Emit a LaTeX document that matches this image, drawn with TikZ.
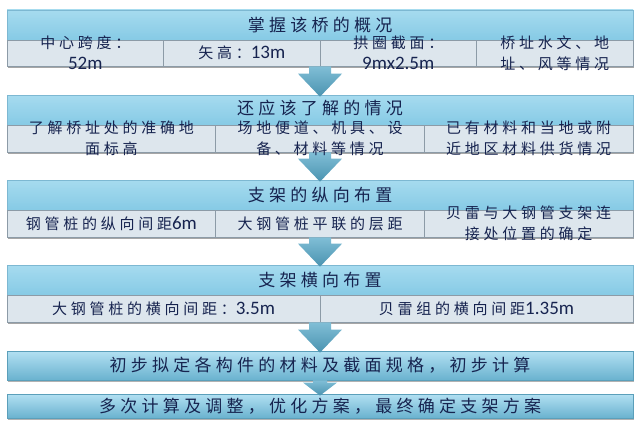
\documentclass[tikz,border=0pt]{standalone}
\usepackage{fontspec}
\setmainfont{Noto Sans CJK SC}[LetterSpace=25]
\newfontfamily\latfont{Carlito}
\newcommand\nm[1]{{\latfont\fontsize{19}{21}\selectfont #1}}
\usetikzlibrary{shadows,calc}
\definecolor{txt}{HTML}{16234F}
\definecolor{hdtop}{HTML}{A6DBEF}
\definecolor{hdbot}{HTML}{86CAE5}
\definecolor{hdline}{HTML}{7DB8D2}
\definecolor{cellfill}{HTML}{DDE6ED}
\definecolor{cellline}{HTML}{8C9BA7}
\definecolor{bartop}{HTML}{B2E0F2}
\definecolor{barbot}{HTML}{6AB2CF}
\definecolor{barline}{HTML}{5B9FBA}
\definecolor{arrtop}{HTML}{80BED6}
\definecolor{arrbot}{HTML}{4A93B0}
\newcommand\flowarrow[5]{%
  \shade[arrowshade] let \p1=(#1), \p2=(#2) in
   (\x1-#3,\y1) -- (\x1+#3,\y1) -- (\x1+#3,\y2+#5) -- (\x1+#4,\y2+#5)
   -- (\x1,\y2-2pt) -- (\x1-#4,\y2+#5) -- (\x1-#3,\y2+#5) -- cycle;}
\begin{document}
\begin{tikzpicture}[x=1pt,y=-1pt,
  header/.style={rectangle, top color=hdtop, bottom color=hdbot, draw=hdline,
    line width=0.6pt, minimum width=626pt, minimum height=30pt, inner sep=0pt},
  cell/.style={rectangle, fill=cellfill, draw=cellline, line width=0.8pt,
    drop shadow={shadow xshift=1pt, shadow yshift=-2pt, fill=black, opacity=0.35},
    inner sep=0pt},
  bar/.style={rectangle, top color=bartop, bottom color=barbot, draw=barline,
    line width=0.8pt, minimum width=626pt,
    drop shadow={shadow xshift=1pt, shadow yshift=-2pt, fill=black, opacity=0.3},
    inner sep=0pt},
  arrowshade/.style={top color=arrtop, bottom color=arrbot},
  title/.style={text=txt, inner sep=0pt, font=\fontsize{17}{20}\selectfont},
  celltext/.style={text=txt, inner sep=0pt, align=center, font=\fontsize{15}{21}\selectfont},
]
\useasboundingbox (0,0) rectangle (640,428);
\fill[white] (0,0) rectangle (640,428);

% panel 1
\node[header] (h1) at (320,25) {};
\foreach \i/\cx in {1/85.25,2/241.75,3/398.25,4/554.75}
  \node[cell, minimum width=156.5pt, minimum height=26pt] (c1\i) at (\cx,53) {};
% panel 2
\node[header] (h2) at (320,110) {};
\foreach \i/\cx in {1/111.33,2/320,3/528.67}
  \node[cell, minimum width=208.67pt, minimum height=27pt] (c2\i) at (\cx,138.5) {};
% panel 3
\node[header] (h3) at (320,195) {};
\foreach \i/\cx in {1/111.33,2/320,3/528.67}
  \node[cell, minimum width=208.67pt, minimum height=27pt] (c3\i) at (\cx,223.5) {};
% panel 4
\node[header] (h4) at (320,280) {};
\foreach \i/\cx in {1/163.5,2/476.5}
  \node[cell, minimum width=313pt, minimum height=27pt] (c4\i) at (\cx,308.5) {};
% bars
\node[bar, minimum height=29pt] (b5) at (320,365.5) {};
\node[bar, minimum height=24pt] (b6) at (320,406) {};

% arrows
\flowarrow{h1.center |- c11.south}{h2.north}{11pt}{22pt}{21pt}
\flowarrow{h2.center |- c21.south}{h3.north}{11pt}{22pt}{21pt}
\flowarrow{h3.center |- c31.south}{h4.north}{11pt}{22pt}{21pt}
\flowarrow{h4.center |- c41.south}{b5.north}{11pt}{22pt}{21pt}
\flowarrow{b5.south}{b6.north}{7pt}{17pt}{11pt}

% titles
\node[title] (t1) at (h1.center) {掌握该桥的概况};
\node[title] (t2) at ($(h2.center)+(0,-2)$) {还应该了解的情况};
\node[title] (t3) at (h3.center) {支架的纵向布置};
\node[title] (t4) at (h4.center) {支架横向布置};

% cell texts
\node[celltext] (x11) at (c11.center) {中心跨度：\\\nm{52m}};
\node[celltext] (x12) at (c12.center) {矢高：\nm{13m}};
\node[celltext] (x13) at (c13.center) {拱圈截面：\\\nm{9mx2.5m}};
\node[celltext] (x14) at (c14.center) {桥址水文、地\\址、风等情况};
\node[celltext] (x21) at (c21.center) {了解桥址处的准确地\\面标高};
\node[celltext] (x22) at (c22.center) {场地便道、机具、设\\备、材料等情况};
\node[celltext] (x23) at (c23.center) {已有材料和当地或附\\近地区材料供货情况};
\node[celltext] (x31) at (c31.center) {钢管桩的纵向间距\nm{6m}};
\node[celltext] (x32) at (c32.center) {大钢管桩平联的层距};
\node[celltext] (x33) at (c33.center) {贝雷与大钢管支架连\\接处位置的确定};
\node[celltext] (x41) at (c41.center) {大钢管桩的横向间距：\nm{3.5m}};
\node[celltext] (x42) at (c42.center) {贝雷组的横向间距\nm{1.35m}};
\node[title] (x5) at (b5.center) {初步拟定各构件的材料及截面规格，初步计算};
\node[title] (x6) at (b6.center) {多次计算及调整，优化方案，最终确定支架方案};
\end{tikzpicture}
\end{document}
